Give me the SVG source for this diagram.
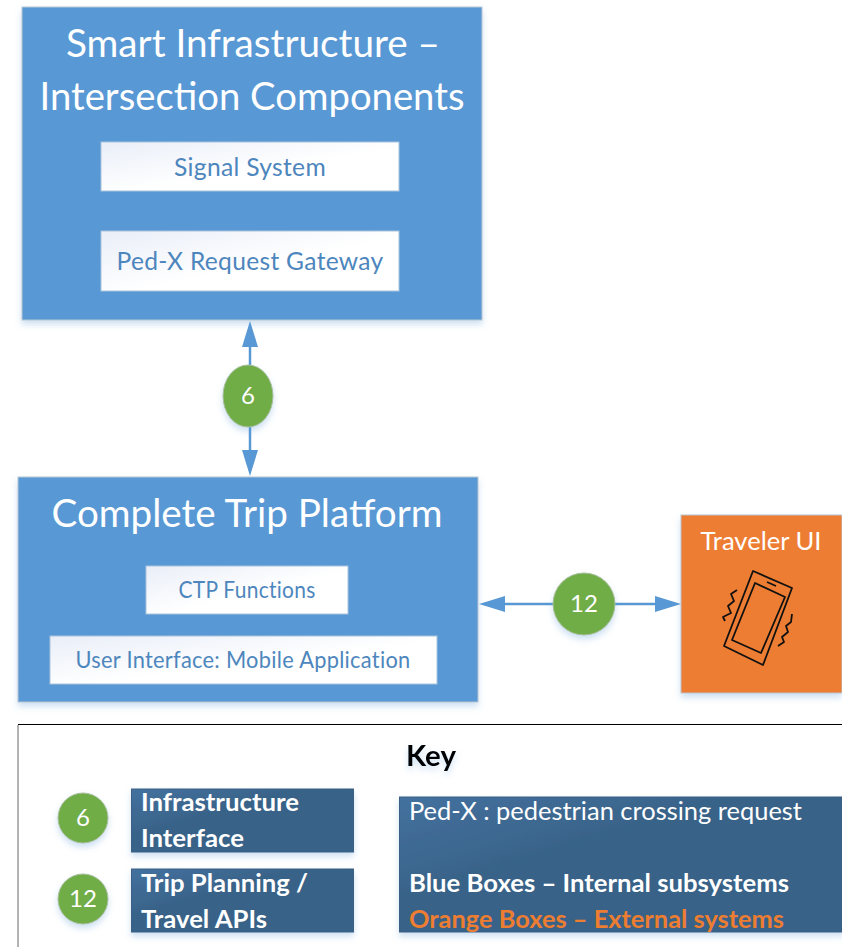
<svg xmlns="http://www.w3.org/2000/svg" width="842" height="947" viewBox="0 0 842 947">
<style>
text{font-family:"Lato","Liberation Sans",sans-serif}
.blue{fill:#5898d4;stroke:#b9c6d2;stroke-width:1}
.sub{fill:url(#subGrad);stroke:#a9c4de;stroke-width:1}
.sublabel{fill:#4d86bd;font-size:25px;text-anchor:middle;letter-spacing:.3px}
.title{fill:#fff;font-size:39px;text-anchor:middle}
.circle{fill:#70ad47;stroke:#a9bfa0;stroke-width:1;filter:url(#shadow)}
.num{fill:#fff;font-size:24px;text-anchor:middle}
.dark{fill:url(#darkGrad);stroke:#3a5f85;stroke-width:1;filter:url(#shadow)}
.darklabel{fill:#fff;font-size:25px;font-weight:700}
.conn{stroke:#5898d4;stroke-width:2.5;fill:none}
.head{fill:#5898d4}
.phone{fill:none;stroke:#111;stroke-width:1.8;stroke-linejoin:round}
</style>
<defs>
<linearGradient id="subGrad" x1="0" y1="0" x2="1" y2="1"><stop offset="0" stop-color="#e9eef8"/><stop offset=".55" stop-color="#fff"/></linearGradient>
<linearGradient id="darkGrad" x1="0" y1="0" x2="1" y2="1"><stop offset="0" stop-color="#44719f"/><stop offset=".4" stop-color="#386287"/></linearGradient>
<filter id="shadow" x="-15%" y="-15%" width="130%" height="135%"><feDropShadow dx="0" dy="4" stdDeviation="3" flood-color="#5b9bd5" flood-opacity=".3"/></filter>
</defs>
<rect width="842" height="947" fill="#fff"/>
<g id="connectors">
<line class="conn" x1="250" y1="340" x2="250" y2="457"/>
<polygon class="head" points="250,321 258,347 242,347"/>
<polygon class="head" points="250,476 258,450 242,450"/>
<line class="conn" x1="500" y1="604" x2="660" y2="604"/>
<polygon class="head" points="479,604 505,596 505,612"/>
<polygon class="head" points="681,604 655,596 655,612"/>
</g>
<g id="smart-infrastructure">
<rect class="blue" x="22" y="7" width="460" height="313" filter="url(#shadow)"/>
<text class="title" x="253" y="57" textLength="374" lengthAdjust="spacingAndGlyphs">Smart Infrastructure –</text>
<text class="title" x="252" y="110" textLength="425" lengthAdjust="spacingAndGlyphs">Intersection Components</text>
</g>
<g id="signal-system">
<rect class="sub" x="101" y="142" width="298" height="49"/>
<text class="sublabel" x="250" y="176" textLength="152" lengthAdjust="spacingAndGlyphs">Signal System</text>
</g>
<g id="ped-x-gateway">
<rect class="sub" x="101" y="231" width="298" height="60"/>
<text class="sublabel" x="250" y="270" textLength="267" lengthAdjust="spacingAndGlyphs">Ped-X Request Gateway</text>
</g>
<g id="badge-6">
<ellipse class="circle" cx="248" cy="396" rx="25" ry="31"/>
<text class="num" x="248" y="404">6</text>
</g>
<g id="complete-trip-platform">
<rect class="blue" x="18" y="477" width="460" height="225" filter="url(#shadow)"/>
<text class="title" x="247" y="527" textLength="391" lengthAdjust="spacingAndGlyphs">Complete Trip Platform</text>
</g>
<g id="ctp-functions">
<rect class="sub" x="146" y="566" width="202" height="48"/>
<text class="sublabel" x="247" y="598" style="font-size:23px" textLength="137" lengthAdjust="spacingAndGlyphs">CTP Functions</text>
</g>
<g id="user-interface">
<rect class="sub" x="50" y="636" width="387" height="48"/>
<text class="sublabel" x="243" y="668" style="font-size:23px" textLength="335" lengthAdjust="spacingAndGlyphs">User Interface: Mobile Application</text>
</g>
<g id="badge-12">
<circle class="circle" cx="584" cy="604" r="31"/>
<text class="num" x="584" y="612">12</text>
</g>
<g id="traveler-ui">
<rect x="681" y="515" width="161" height="178" fill="#ed7d31" stroke="#b9c6d2" filter="url(#shadow)"/>
<text x="761" y="550" fill="#fff" font-size="25" text-anchor="middle" textLength="121" lengthAdjust="spacingAndGlyphs">Traveler UI</text>
<path class="phone" d="M753 571L792 588L763 665L724 646Z"/>
<path class="phone" d="M755 583L785 597L761 653L732 640Z"/>
<path class="phone" d="M767 582L776 586"/>
<path class="phone" d="M737 590L731 594L734 601L728 606L731 613L723 617L725 621"/>
<path class="phone" d="M792 614L791 622L786 626L788 632L782 637L784 642L778 646"/>
</g>
<g id="key">
<path d="M18 947V725" fill="none" stroke="#666" stroke-width="1"/>
<path d="M18 724.5H842" fill="none" stroke="#000" stroke-width="1"/>
<text x="406" y="766" font-size="29" font-weight="700" fill="#000" filter="url(#shadow)" textLength="50" lengthAdjust="spacingAndGlyphs">Key</text>
</g>
<g id="key-6">
<circle class="circle" cx="83" cy="818" r="25"/>
<text class="num" x="83" y="826">6</text>
</g>
<g id="key-infrastructure">
<rect class="dark" x="131.5" y="789" width="222" height="63"/>
<text class="darklabel" x="141" y="811" textLength="158" lengthAdjust="spacingAndGlyphs">Infrastructure</text>
<text class="darklabel" x="141" y="847" textLength="103" lengthAdjust="spacingAndGlyphs">Interface</text>
</g>
<g id="key-12">
<circle class="circle" cx="83" cy="899" r="25"/>
<text class="num" x="83" y="907">12</text>
</g>
<g id="key-trip-planning">
<rect class="dark" x="131.5" y="869" width="222" height="63"/>
<text class="darklabel" x="141" y="892" textLength="167" lengthAdjust="spacingAndGlyphs">Trip Planning /</text>
<text class="darklabel" x="141" y="928" textLength="126" lengthAdjust="spacingAndGlyphs">Travel APIs</text>
</g>
<g id="key-legend">
<rect class="dark" x="399.5" y="797" width="444" height="135"/>
<text x="409" y="820" font-size="25" fill="#fff" textLength="393" lengthAdjust="spacingAndGlyphs">Ped-X : pedestrian crossing request</text>
<text class="darklabel" x="409" y="892" textLength="380" lengthAdjust="spacingAndGlyphs">Blue Boxes – Internal subsystems</text>
<text class="darklabel" x="409" y="928" style="fill:#ed7d31" textLength="375" lengthAdjust="spacingAndGlyphs">Orange Boxes – External systems</text>
</g>
</svg>
